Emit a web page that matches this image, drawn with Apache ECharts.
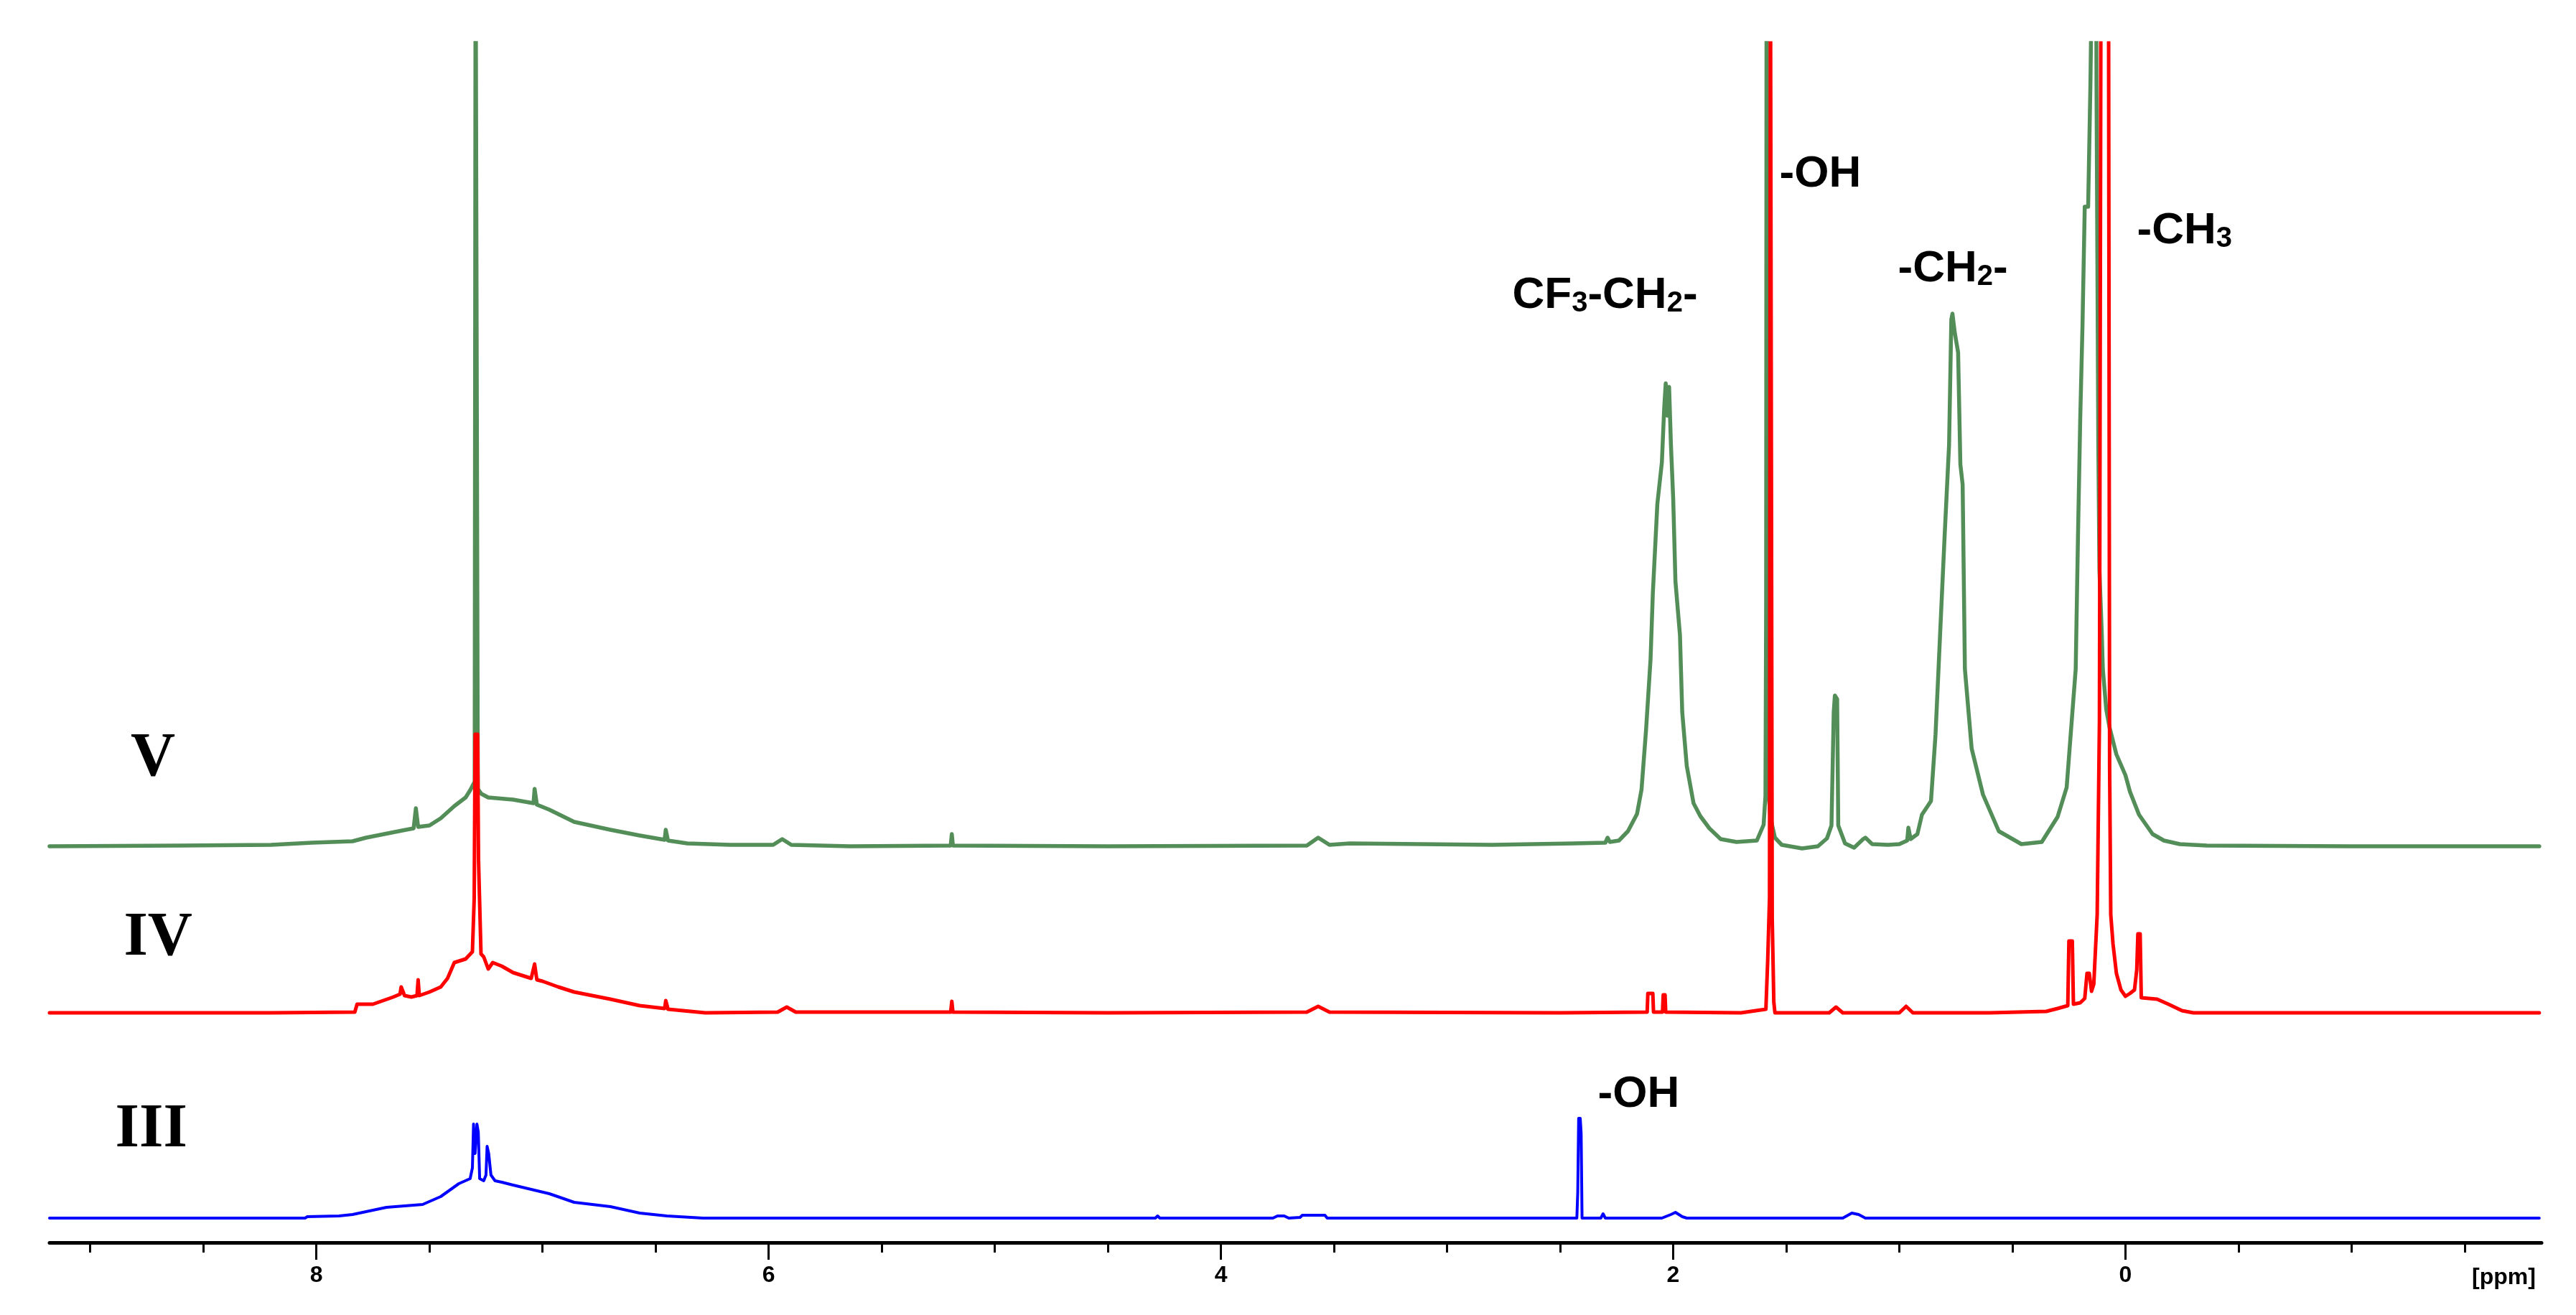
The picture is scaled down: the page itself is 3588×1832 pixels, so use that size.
<!DOCTYPE html>
<html><head><meta charset="utf-8">
<script src="https://cdn.jsdelivr.net/npm/echarts@6/dist/echarts.min.js"></script>
<style>html,body{margin:0;padding:0;background:#fff}#c{width:3588px;height:1832px}</style>
</head><body><div id="c"></div>
<script>
// ---- axis ----
const ppmMin = -1.84, ppmMax = 9.18;
const majorTicks = [8, 6, 4, 2, 0];
const minorTicks = [9, 8.5, 7.5, 7, 6.5, 5.5, 5, 4.5, 3.5, 3, 2.5, 1.5, 1, 0.5, -0.5, -1, -1.5];
const axisUnit = '[ppm]';

// ---- spectra: [ppm, intensity] ----
const specV = [[9.18,0],[8.6,1],[8.2,2],[8.02,5],[7.84,7],[7.78,12],[7.70,17],[7.62,22],[7.57,25],[7.56,53],[7.55,27],[7.50,29],[7.45,39],[7.39,56],[7.34,68],[7.32,78],[7.30,90],[7.296,1300],[7.290,1300],[7.286,80],[7.27,73],[7.24,68],[7.13,65],[7.04,60],[7.035,80],[7.025,58],[6.97,51],[6.86,34],[6.70,23],[6.57,15],[6.46,9],[6.455,23],[6.445,8],[6.36,4],[6.17,2],[5.98,2],[5.94,10],[5.90,2],[5.64,0],[5.195,1],[5.19,17],[5.185,1],[4.5,0],[3.62,1],[3.57,12],[3.52,2],[3.43,4],[2.8,2],[2.44,4],[2.30,5],[2.29,12],[2.28,6],[2.24,8],[2.20,21],[2.16,45],[2.14,79],[2.12,162],[2.10,261],[2.09,352],[2.07,477],[2.05,535],[2.04,609],[2.033,645],[2.025,600],[2.018,640],[2.01,560],[2.00,485],[1.99,369],[1.97,294],[1.96,187],[1.94,112],[1.91,60],[1.88,42],[1.84,25],[1.79,10],[1.72,6],[1.63,8],[1.60,30],[1.592,70],[1.589,330],[1.587,1300],[1.583,1300],[1.581,330],[1.577,70],[1.57,40],[1.55,12],[1.52,2],[1.43,-3],[1.36,0],[1.32,11],[1.30,29],[1.29,187],[1.285,210],[1.275,205],[1.27,29],[1.24,4],[1.20,-2],[1.16,10],[1.15,12],[1.12,3],[1.05,2],[1.00,3],[0.965,8],[0.96,26],[0.95,10],[0.92,17],[0.90,44],[0.86,63],[0.84,155],[0.82,293],[0.80,430],[0.78,559],[0.77,734],[0.765,742],[0.755,716],[0.74,688],[0.73,532],[0.72,504],[0.71,247],[0.68,136],[0.63,72],[0.56,21],[0.46,3],[0.37,6],[0.30,41],[0.26,82],[0.22,247],[0.21,430],[0.20,595],[0.19,725],[0.18,891],[0.165,891],[0.155,1060],[0.145,1300],[0.13,1300],[0.128,1060],[0.12,558],[0.115,384],[0.105,300],[0.10,247],[0.085,191],[0.07,165],[0.04,128],[0.0,99],[-0.02,76],[-0.06,44],[-0.12,17],[-0.17,8],[-0.24,3],[-0.36,1],[-1.0,0],[-1.83,0]];

const specIV = [[9.18,0],[8.2,0],[7.83,1],[7.82,12],[7.75,12],[7.66,22],[7.63,26],[7.625,36],[7.61,24],[7.58,22],[7.555,24],[7.55,46],[7.545,24],[7.50,29],[7.45,36],[7.42,48],[7.39,70],[7.34,75],[7.31,85],[7.302,160],[7.298,388],[7.287,388],[7.283,213],[7.277,213],[7.272,82],[7.26,78],[7.24,61],[7.22,70],[7.18,65],[7.13,56],[7.05,48],[7.035,68],[7.025,46],[7.00,44],[6.93,36],[6.86,29],[6.70,19],[6.57,10],[6.46,6],[6.455,17],[6.445,5],[6.28,0],[5.96,1],[5.92,8],[5.88,1],[5.195,1],[5.19,16],[5.185,1],[4.5,0],[3.62,1],[3.57,9],[3.52,1],[2.5,0],[2.115,1],[2.112,27],[2.09,27],[2.087,1],[2.047,1],[2.044,25],[2.036,25],[2.033,1],[1.70,0],[1.59,5],[1.582,73],[1.574,160],[1.570,1500],[1.565,1500],[1.562,131],[1.555,15],[1.55,0],[1.31,0],[1.28,8],[1.25,0],[1.0,0],[0.97,9],[0.94,0],[0.60,0],[0.35,2],[0.30,6],[0.255,10],[0.25,100],[0.235,100],[0.23,12],[0.20,14],[0.18,20],[0.17,55],[0.16,55],[0.15,30],[0.14,40],[0.125,137],[0.115,406],[0.108,1500],[0.075,1500],[0.07,343],[0.065,137],[0.055,96],[0.04,55],[0.02,32],[0.0,23],[-0.02,27],[-0.04,32],[-0.05,60],[-0.055,110],[-0.065,110],[-0.07,21],[-0.14,19],[-0.19,12],[-0.25,3],[-0.30,0],[-1.83,0]];

const specIII = [[9.18,0],[8.05,0],[8.04,2],[7.90,3],[7.84,5],[7.69,15],[7.53,19],[7.45,30],[7.37,48],[7.32,55],[7.31,70],[7.305,131],[7.298,90],[7.29,131],[7.284,120],[7.278,55],[7.26,52],[7.25,60],[7.245,100],[7.238,90],[7.228,60],[7.21,52],[7.18,50],[7.13,46],[6.97,34],[6.86,22],[6.70,16],[6.57,7],[6.45,3],[6.29,0],[4.29,0],[4.28,3],[4.27,0],[3.77,0],[3.75,3],[3.72,3],[3.70,0],[3.65,1],[3.64,4],[3.54,4],[3.53,0],[2.44,0],[2.426,0],[2.422,36],[2.418,139],[2.411,139],[2.407,118],[2.403,0],[2.32,0],[2.31,6],[2.30,0],[2.05,0],[2.01,5],[1.99,8],[1.96,2],[1.94,0],[1.25,0],[1.21,7],[1.18,5],[1.15,0],[-1.83,0]];

// ---- labels ----
const spectrumNames = ['V', 'IV', 'III'];
const peakLabels = [
  {rich: '{a|-OH}', ppm: 1.530, y: 1488},
  {rich: '{a|CF}{s|3}{a|-CH}{s|2}{a|-}', ppm: 2.711, y: 1319},
  {rich: '{a|-CH}{s|2}{a|-}', ppm: 1.006, y: 1356},
  {rich: '{a|-CH}{s|3}', ppm: -0.051, y: 1409},
  {rich: '{a|-OH}', ppm: 2.333, y: 206}
];
const nameAnchors = [{ppm: 8.723, y: 673}, {ppm: 8.70, y: 423}, {ppm: 8.73, y: 156}];

// ---- layout ----
const GRID = {left: 69, right: 48, top: 60, bottom: 101};
const Y_MAX = 1832 - GRID.top - GRID.bottom;
const baseOffsets = [552, 320, 34];
const colors = ['#538e58', '#ff0000', '#0000ff'];
const widths = [5.5, 5, 4];
const spectra = [specV, specIV, specIII];

const chart = echarts.init(document.getElementById('c'), null, {renderer: 'canvas'});
const axisFont = {fontFamily: 'Liberation Sans', fontWeight: 'bold', fontSize: 32, color: '#000'};

const option = {
  animation: false,
  backgroundColor: '#fff',
  grid: {left: GRID.left, right: GRID.right, top: GRID.top, bottom: GRID.bottom, containLabel: false},
  xAxis: [
    {type: 'value', min: ppmMin, max: ppmMax, inverse: true, position: 'bottom',
     axisLine: {onZero: false, lineStyle: {color: '#000', width: 5}},
     axisTick: {show: true, customValues: majorTicks, length: 24, lineStyle: {color: '#000', width: 3}},
     axisLabel: {show: true, customValues: majorTicks, margin: 30, ...axisFont},
     splitLine: {show: false}},
    {type: 'value', min: ppmMin, max: ppmMax, inverse: true, position: 'bottom',
     axisLine: {show: false, onZero: false},
     axisTick: {show: true, customValues: minorTicks, length: 14, lineStyle: {color: '#000', width: 3}},
     axisLabel: {show: false}, splitLine: {show: false}}
  ],
  yAxis: {type: 'value', min: 0, max: Y_MAX, show: false},
  series: spectra.map((s, i) => ({
    type: 'line', name: spectrumNames[i], xAxisIndex: 0,
    data: s.map(p => [p[0], p[1] + baseOffsets[i]]),
    showSymbol: false, symbol: 'none', clip: true, silent: true,
    lineStyle: {color: colors[i], width: widths[i], join: 'round', cap: 'round'}
  }))
};
chart.setOption(option);

const px = (ppm, y) => chart.convertToPixel({xAxisIndex: 0, yAxisIndex: 0}, [ppm, y]);
const graphics = [];
peakLabels.forEach(l => {
  const p = px(l.ppm, l.y);
  graphics.push({type: 'text', x: p[0], y: p[1], z: 100, style: {
    text: l.rich, align: 'left', verticalAlign: 'middle',
    rich: {
      a: {fontFamily: 'Liberation Sans', fontWeight: 'bold', fontSize: 62, fill: '#000', lineHeight: 62, verticalAlign: 'bottom'},
      s: {fontFamily: 'Liberation Sans', fontWeight: 'bold', fontSize: 40, fill: '#000', lineHeight: 46, verticalAlign: 'bottom'}
    }}});
});
spectrumNames.forEach((n, i) => {
  const p = px(nameAnchors[i].ppm, nameAnchors[i].y);
  graphics.push({type: 'text', x: p[0], y: p[1], z: 100, style: {
    text: n, align: 'center', verticalAlign: 'middle',
    font: 'bold 86px "Liberation Serif"', fill: '#000'}});
});
const u = px(-1.673, 0);
graphics.push({type: 'text', x: u[0], y: u[1] + 49, z: 100, style: {
  text: axisUnit, align: 'center', verticalAlign: 'middle',
  font: 'bold 32px "Liberation Sans"', fill: '#000'}});
chart.setOption({graphic: graphics});
</script></body></html>
